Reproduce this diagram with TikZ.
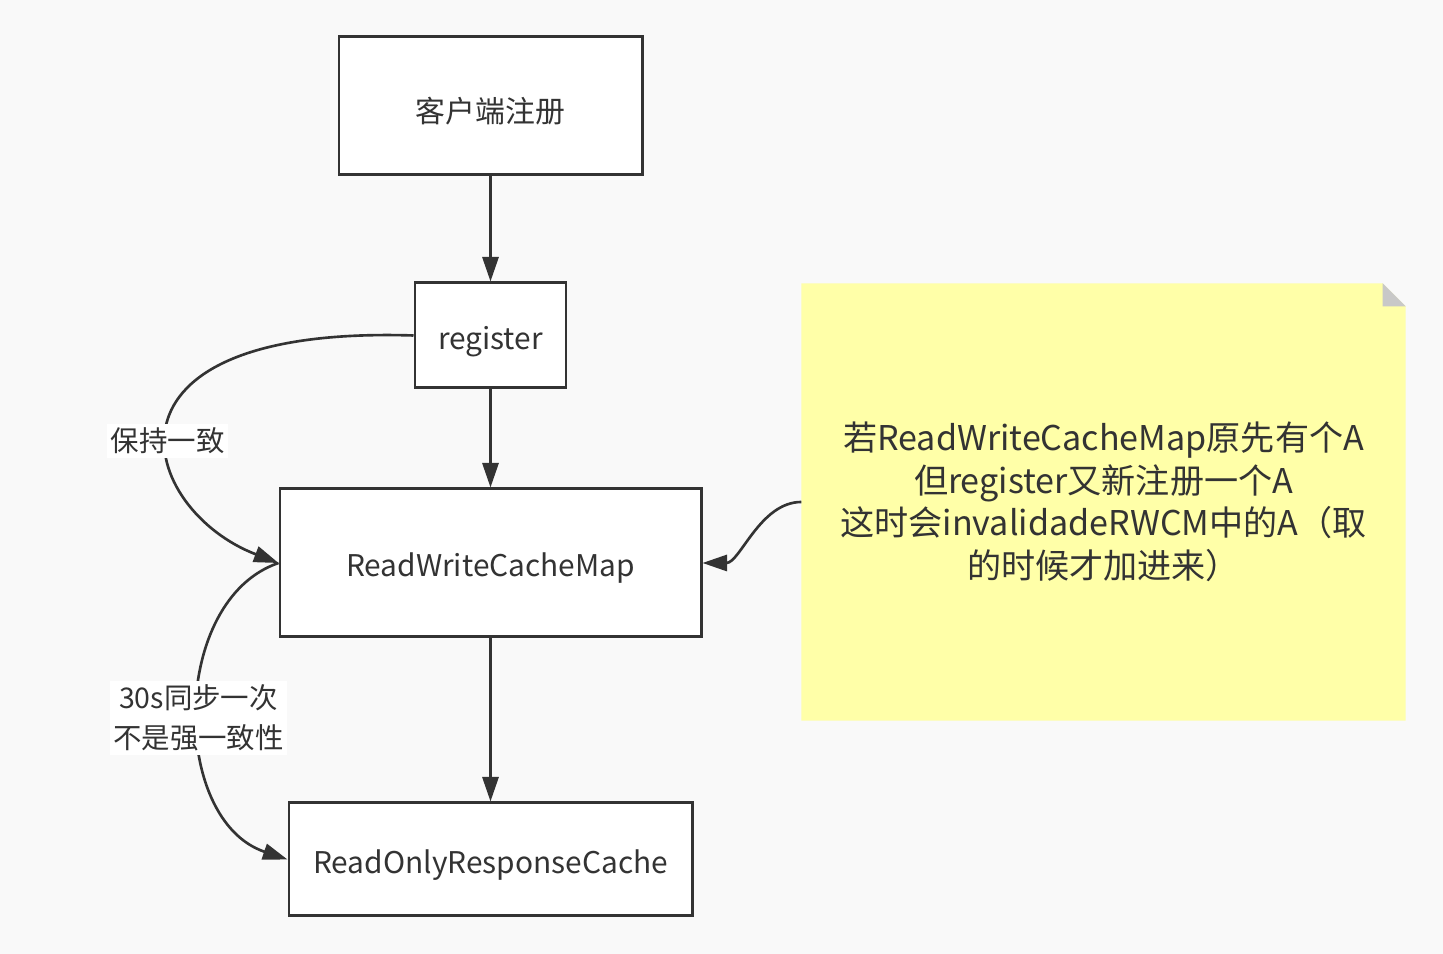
\documentclass[tikz,border=0pt]{standalone}
\usepackage{fontspec}
\setmainfont{Noto Sans CJK SC}
\usetikzlibrary{arrows.meta, positioning, backgrounds}
\definecolor{cbg}{HTML}{F9F9F9}
\definecolor{cline}{HTML}{333333}
\definecolor{cnote}{HTML}{FFFFA8}
\definecolor{cfold}{HTML}{C8C8C8}
\tikzset{
  every picture/.style={font=\fontsize{8.5pt}{11pt}\selectfont, text=cline},
  box/.style={draw=cline, fill=white, line width=0.85pt, inner sep=0pt, text height=0.276cm, text depth=0pt},
  arrow/.style={-{Triangle[length=7pt, width=4.6pt]}, draw=cline, line width=0.75pt},
  lbl/.style={fill=white, align=center, inner sep=1pt, font=\fontsize{8.1pt}{11.4pt}\selectfont},
  notetext/.style={align=center, minimum width=6.03cm, minimum height=4.36cm, inner sep=0pt,
    font=\fontsize{9.7pt}{12.1pt}\selectfont},
}

\begin{document}
\begin{tikzpicture}
  % boxes
  \node[box, minimum width=3.03cm, minimum height=1.38cm, text height=0.336cm] (client) at (4.905,-1.06) {客户端注册};
  \node[box, minimum width=1.51cm, minimum height=1.05cm] (reg) at (4.905,-3.355) {register};
  \node[box, minimum width=4.21cm, minimum height=1.48cm] (rwcm) at (4.905,-5.63) {ReadWriteCacheMap};
  \node[box, minimum width=4.03cm, minimum height=1.13cm] (ror) at (4.905,-8.595) {ReadOnlyResponseCache};
  % sticky note
  \node[notetext] (note) at (11.035,-5.02) {若ReadWriteCacheMap原先有个A\\但register又新注册一个A\\这时会invalidadeRWCM中的A（取\\的时候才加进来）};
  \begin{scope}[on background layer]
    \fill[cbg] (0,0) rectangle (14.43,-9.54);
    \fill[cnote] (note.south west) |- ([xshift=-0.23cm]note.north east) -- ++(0.23,-0.23) |- cycle;
    \fill[cfold] ([xshift=-0.23cm]note.north east) -- ++(0,-0.23) -- ++(0.23,0) -- cycle;
  \end{scope}
  % straight arrows
  \draw[arrow] (client) -- (reg);
  \draw[arrow] (reg) -- (rwcm);
  \draw[arrow] (rwcm) -- (ror);
  % curved arrows on the left
  \draw[arrow] (reg.west) .. controls (0.80,-3.25) and (1.40,-5.10) .. (rwcm.west)
    node[lbl, pos=0.55] {保持一致};
  \draw[arrow] (rwcm.west) .. controls (1.70,-6.00) and (1.70,-8.20) .. (ror.west)
    node[lbl, pos=0.52] {30s同步一次\\不是强一致性};
  % note to cache
  \draw[arrow] (note.west) .. controls (7.60,-5.02) and (7.40,-5.63) .. (rwcm.east);
\end{tikzpicture}
\end{document}
